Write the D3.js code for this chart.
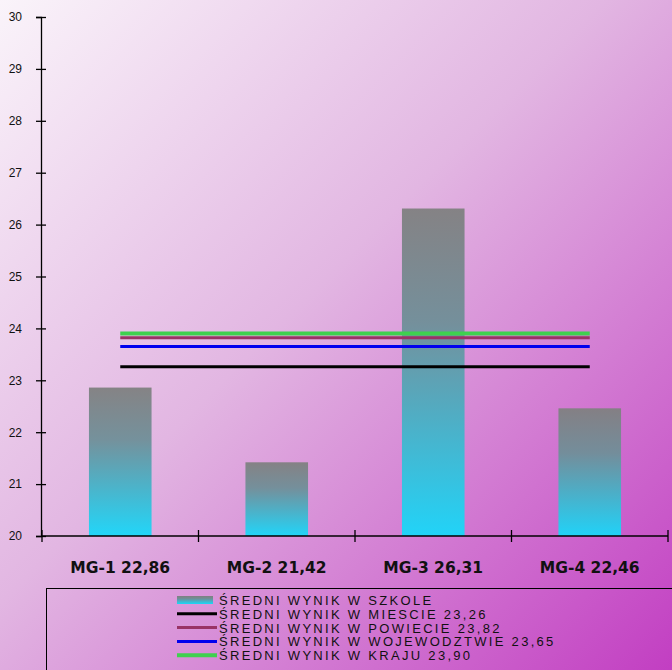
<!DOCTYPE html>
<html><head><meta charset="utf-8">
<script src="https://cdn.jsdelivr.net/npm/d3@7"></script>
<style>html,body{margin:0;padding:0;overflow:hidden;background:#fff}</style>
</head><body>
<script>
const categories = ["MG-1", "MG-2", "MG-3", "MG-4"];
const schoolScores = [22.86, 21.42, 26.31, 22.46];
const schoolLabel = "ŚREDNI WYNIK W SZKOLE";
const refNames = ["ŚREDNI WYNIK W MIESCIE", "ŚREDNI WYNIK W POWIECIE", "ŚREDNI WYNIK W WOJEWODZTWIE", "ŚREDNI WYNIK W KRAJU"];
const refValues = [23.26, 23.82, 23.65, 23.90];
const refColors = ["#000000", "#993366", "#0000ee", "#3fd04f"];
const yTicks = [20, 21, 22, 23, 24, 25, 26, 27, 28, 29, 30];

const W = 672, H = 670;
const fmt = v => v.toFixed(2).replace(".", ",");

const svg = d3.select("body").append("svg").attr("width", W).attr("height", H);
const defs = svg.append("defs");
const bg = defs.append("linearGradient").attr("id", "bg").attr("x1", "0").attr("y1", "0").attr("x2", "1").attr("y2", "1");
bg.append("stop").attr("offset", "0").attr("stop-color", "#faf4fa");
bg.append("stop").attr("offset", "0.45").attr("stop-color", "#e2b6e2");
bg.append("stop").attr("offset", "1").attr("stop-color", "#c23ec2");
const bar = defs.append("linearGradient").attr("id", "bar").attr("x1", "0").attr("y1", "0").attr("x2", "0").attr("y2", "1");
bar.append("stop").attr("offset", "0").attr("stop-color", "#808080");
bar.append("stop").attr("offset", "0.35").attr("stop-color", "#6f8f98");
bar.append("stop").attr("offset", "1").attr("stop-color", "#18d8fa");

svg.append("rect").attr("width", W).attr("height", H).attr("fill", "url(#bg)");

const x = d3.scaleBand().domain(categories).range([42, 668]).padding(0);
const y = d3.scaleLinear().domain([20, 30]).range([536, 17]);
const bw = x.bandwidth();
const barW = bw * 0.4;

// bars
svg.append("g").selectAll("rect").data(categories).join("rect")
  .attr("x", d => x(d) + (bw - barW) / 2)
  .attr("width", barW)
  .attr("y", (d, i) => y(schoolScores[i]))
  .attr("height", (d, i) => y(20) - y(schoolScores[i]))
  .attr("fill", "url(#bar)")
  .attr("opacity", 0.95);

// reference lines
const xStart = x(categories[0]) + bw / 2, xEnd = x(categories[categories.length - 1]) + bw / 2;
svg.append("g").selectAll("line").data(refValues).join("line")
  .attr("x1", xStart).attr("x2", xEnd)
  .attr("y1", d => y(d)).attr("y2", d => y(d))
  .attr("stroke", (d, i) => refColors[i])
  .attr("stroke-width", (d, i) => i === 3 ? 4 : 3);

// y axis
const yAxis = svg.append("g").attr("transform", "translate(41,0)")
  .call(d3.axisLeft(y).tickValues(yTicks).tickSize(5).tickPadding(14));
yAxis.select(".domain").attr("stroke", "#000").attr("stroke-width", 1.3);
yAxis.selectAll(".tick line").attr("x1", -5).attr("x2", 5).attr("stroke", "#000").attr("stroke-width", 1.3);
yAxis.selectAll(".tick text").attr("font-family", "Liberation Sans, Arial, sans-serif").attr("font-size", 12).attr("fill", "#111");

// x axis
const xb = svg.append("g").attr("transform", "translate(0,536)");
xb.append("line").attr("x1", 41).attr("x2", 668).attr("stroke", "#000").attr("stroke-width", 1.3);
const bounds = categories.map(d => x(d)).concat([x(categories[categories.length - 1]) + bw]);
xb.selectAll("line.t").data(bounds).join("line").attr("class", "t")
  .attr("x1", d => d).attr("x2", d => d).attr("y1", -6).attr("y2", 6)
  .attr("stroke", "#000").attr("stroke-width", 1.3);
xb.selectAll("text").data(categories).join("text")
  .attr("x", d => x(d) + bw / 2).attr("y", 37)
  .attr("text-anchor", "middle")
  .attr("font-family", "DejaVu Sans, Verdana, sans-serif").attr("font-weight", "bold")
  .attr("font-size", 15.5).attr("fill", "#111")
  .text((d, i) => d + " " + fmt(schoolScores[i]));

// legend
const lg = svg.append("g");
lg.append("rect").attr("x", 46.5).attr("y", 588.5).attr("width", 700).attr("height", 200)
  .attr("fill", "none").attr("stroke", "#000").attr("stroke-width", 1);
const items = [{ label: schoolLabel, color: null }].concat(refNames.map((n, i) => ({ label: n + " " + fmt(refValues[i]), color: refColors[i] })));
const rowY = i => 600 + i * 13.8;
const swX = 177, swW = 40;
items.forEach((it, i) => {
  if (it.color === null) {
    lg.append("rect").attr("x", swX).attr("y", rowY(i) - 4).attr("width", swW - 4).attr("height", 8).attr("fill", "url(#bar)");
  } else {
    lg.append("line").attr("x1", swX).attr("x2", swX + swW).attr("y1", rowY(i)).attr("y2", rowY(i))
      .attr("stroke", it.color).attr("stroke-width", i === 4 ? 4 : 3);
  }
  lg.append("text").attr("x", 219).attr("y", rowY(i) + 5)
    .attr("font-family", "Liberation Sans, Arial, sans-serif").attr("font-size", 13)
    .attr("letter-spacing", "2.3px").attr("fill", "#111")
    .text(it.label);
});
</script>
</body></html>
